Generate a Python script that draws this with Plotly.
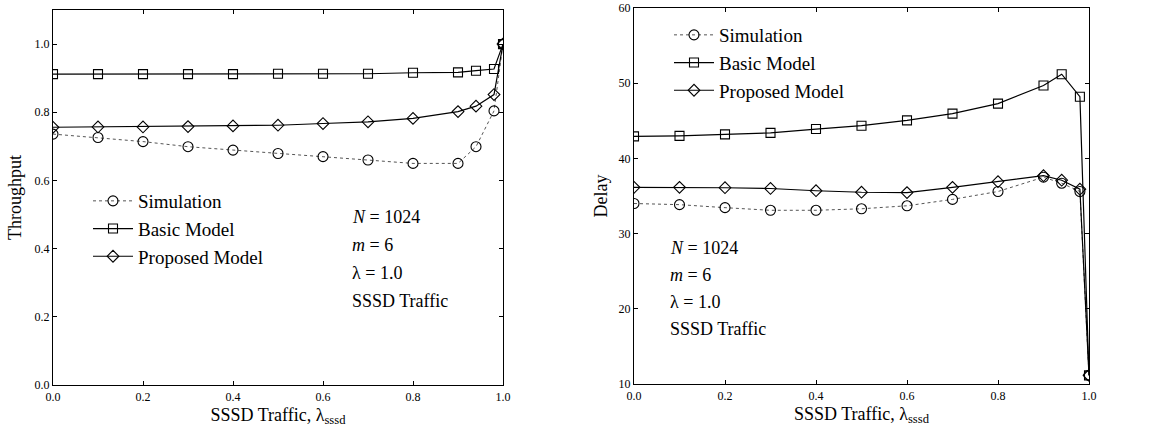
import plotly.graph_objects as go

# ---- data ----
x_traffic = [0.0, 0.1, 0.2, 0.3, 0.4, 0.5, 0.6, 0.7, 0.8, 0.9, 0.94, 0.98, 1.0]

thr_sim = [0.736, 0.726, 0.714, 0.699, 0.689, 0.679, 0.670, 0.660, 0.650, 0.650, 0.699, 0.804, 1.0]
thr_basic = [0.912, 0.912, 0.912, 0.912, 0.912, 0.913, 0.913, 0.913, 0.916, 0.917, 0.922, 0.927, 1.0]
thr_prop = [0.756, 0.757, 0.757, 0.758, 0.760, 0.762, 0.767, 0.772, 0.782, 0.802, 0.818, 0.852, 1.0]

del_sim = [34.0, 33.85, 33.45, 33.1, 33.1, 33.3, 33.7, 34.55, 35.6, 37.5, 36.7, 35.6, 11.15]
del_basic = [42.93, 43.0, 43.2, 43.4, 43.9, 44.35, 45.06, 45.95, 47.28, 49.7, 51.2, 48.2, 11.15]
del_prop = [36.15, 36.15, 36.1, 36.0, 35.7, 35.5, 35.45, 36.15, 36.9, 37.7, 37.1, 35.9, 11.15]

series_names = ["Simulation", "Basic Model", "Proposed Model"]
x_tickvals = [0.0, 0.2, 0.4, 0.6, 0.8, 1.0]
x_ticktext = ["0.0", "0.2", "0.4", "0.6", "0.8", "1.0"]
thr_tickvals = [0.0, 0.2, 0.4, 0.6, 0.8, 1.0]
thr_ticktext = ["0.0", "0.2", "0.4", "0.6", "0.8", "1.0"]
del_tickvals = [10, 20, 30, 40, 50, 60]

SERIF = "Liberation Serif"
styles = [
    dict(symbol="circle-open", line=dict(color="#555", width=1, dash="dot")),
    dict(symbol="square-open", line=dict(color="black", width=1.2, dash="solid")),
    dict(symbol="diamond-open", line=dict(color="black", width=1.2, dash="solid")),
]

fig = go.Figure()

left = [thr_sim, thr_basic, thr_prop]
right = [del_sim, del_basic, del_prop]
for i, (name, ys) in enumerate(zip(series_names, left)):
    st = styles[i]
    fig.add_trace(go.Scatter(
        x=x_traffic, y=ys, name=name, mode="lines+markers",
        xaxis="x", yaxis="y", legend="legend",
        line=st["line"],
        marker=dict(symbol=st["symbol"], size=10 if i == 0 else 9,
                    color="black", line=dict(width=1.1, color="black")),
    ))
for i, (name, ys) in enumerate(zip(series_names, right)):
    st = styles[i]
    fig.add_trace(go.Scatter(
        x=x_traffic, y=ys, name=name, mode="lines+markers",
        xaxis="x2", yaxis="y2", legend="legend2",
        line=st["line"],
        marker=dict(symbol=st["symbol"], size=10 if i == 0 else 9,
                    color="black", line=dict(width=1.1, color="black")),
    ))

W, H = 1154, 428
axis_common = dict(
    showline=True, linecolor="black", linewidth=1.2, mirror="ticks",
    ticks="inside", ticklen=4, tickcolor="black", showgrid=False, zeroline=False,
    tickfont=dict(family=SERIF, size=12, color="black"), automargin=False,
)

fig.update_layout(
    width=W, height=H,
    margin=dict(l=0, r=0, t=0, b=0),
    paper_bgcolor="white", plot_bgcolor="white",
    font=dict(family=SERIF, color="black"),
    xaxis=dict(domain=[53 / W, 503 / W], range=[0, 1.0], tickvals=x_tickvals,
               ticktext=x_ticktext, anchor="y",
               title=dict(text="SSSD Traffic, λ<sub>sssd</sub>", font=dict(family=SERIF, size=18), standoff=5),
               **axis_common),
    yaxis=dict(domain=[1 - 385 / H, 1 - 10 / H], range=[0, 1.1], tickvals=thr_tickvals,
               ticktext=thr_ticktext, anchor="x",
               title=dict(text="Throughput", font=dict(family=SERIF, size=18), standoff=8),
               **axis_common),
    xaxis2=dict(domain=[634 / W, 1089 / W], range=[0, 1.0], tickvals=x_tickvals,
                ticktext=x_ticktext, anchor="y2",
                title=dict(text="SSSD Traffic, λ<sub>sssd</sub>", font=dict(family=SERIF, size=18), standoff=5),
                **axis_common),
    yaxis2=dict(domain=[1 - 384 / H, 1 - 8 / H], range=[10, 60], tickvals=del_tickvals,
                anchor="x2",
                title=dict(text="Delay", font=dict(family=SERIF, size=18), standoff=6),
                **axis_common),
    legend=dict(x=88 / W, y=1 - 182 / H, xanchor="left", yanchor="top",
                bgcolor="rgba(0,0,0,0)", font=dict(family=SERIF, size=19, color="black"),
                itemwidth=40, tracegroupgap=0),
    legend2=dict(x=669 / W, y=1 - 16 / H, xanchor="left", yanchor="top",
                 bgcolor="rgba(0,0,0,0)", font=dict(family=SERIF, size=19, color="black"),
                 itemwidth=40, tracegroupgap=0),
    showlegend=True,
)

notes = ["<i>N</i> = 1024", "<i>m</i> = 6", "λ = 1.0", "SSSD Traffic"]
for k, t in enumerate(notes):
    fig.add_annotation(text=t, xref="paper", yref="paper", x=350 / W, y=1 - (217 + 28 * k) / H,
                       xanchor="left", yanchor="middle", showarrow=False,
                       font=dict(family=SERIF, size=18, color="black"))
    fig.add_annotation(text=t, xref="paper", yref="paper", x=668 / W, y=1 - (248 + 27 * k) / H,
                       xanchor="left", yanchor="middle", showarrow=False,
                       font=dict(family=SERIF, size=18, color="black"))

fig.write_html("out.html")
